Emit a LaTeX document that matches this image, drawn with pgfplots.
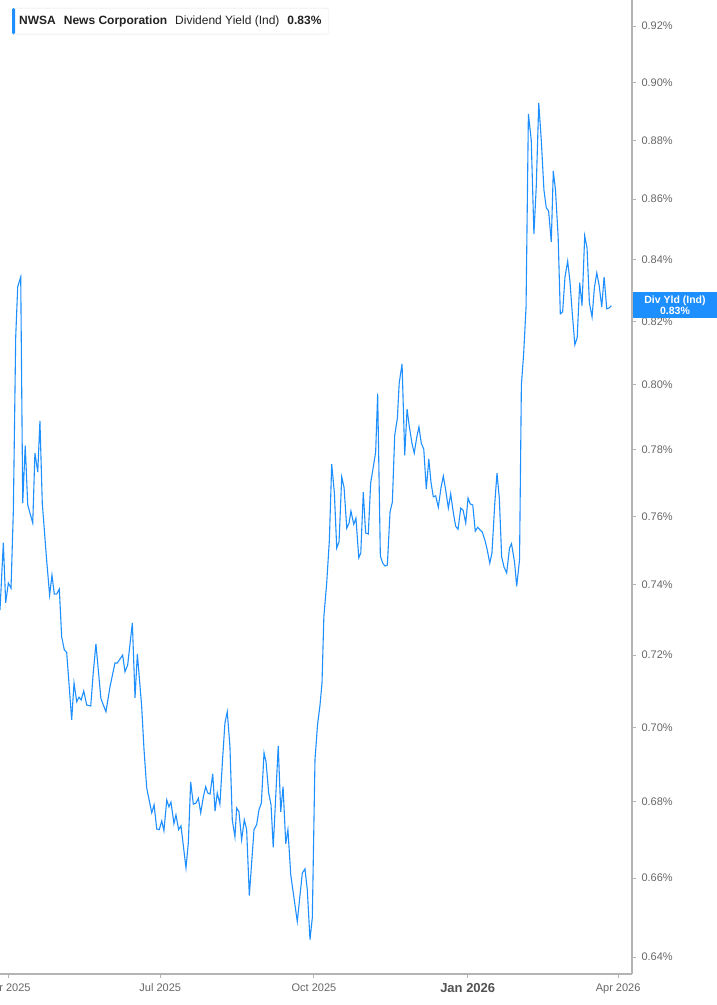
\documentclass[border=0pt]{standalone}
\usepackage{pgfplots}
\pgfplotsset{compat=1.18}
\usepackage{fontspec}
\setmainfont{Liberation Sans}

\definecolor{lineblue}{HTML}{1E8FFF}
\definecolor{axisgray}{HTML}{B4B4B4}
\definecolor{labelgray}{HTML}{666666}
\definecolor{titledark}{HTML}{222222}

% day = days after 1 Apr 2025, yield = dividend yield in percent
\pgfplotstableread{
day yield
-4.9 0.7328
-2.9 0.7522
-1.5 0.7348
0.1 0.7405
1.7 0.7390
3.1 0.7619
4.5 0.8150
5.7 0.8311
7.5 0.8343
8.7 0.7640
10.2 0.7814
11.7 0.7634
14.7 0.7580
16.0 0.7790
17.7 0.7733
19.0 0.7888
20.4 0.7640
23.0 0.7472
24.8 0.7370
26.2 0.7428
27.6 0.7373
29.0 0.7373
30.6 0.7387
32.0 0.7251
33.6 0.7214
35.0 0.7208
38.0 0.7020
39.4 0.7122
41.0 0.7070
42.4 0.7083
43.7 0.7075
45.2 0.7100
47.0 0.7061
49.4 0.7058
50.9 0.7150
52.5 0.7231
55.5 0.7078
58.5 0.7042
60.9 0.7111
63.9 0.7178
65.3 0.7178
68.5 0.7200
69.9 0.7153
71.5 0.7172
74.3 0.7291
75.9 0.7081
77.3 0.7203
79.9 0.7056
81.3 0.6938
82.9 0.6836
85.9 0.6770
87.3 0.6791
88.9 0.6728
90.4 0.6726
91.9 0.6749
93.2 0.6723
94.9 0.6804
96.2 0.6786
97.4 0.6799
99.2 0.6741
100.4 0.6765
102.0 0.6726
103.4 0.6736
106.4 0.6626
107.8 0.6692
109.2 0.6852
110.8 0.6793
112.4 0.6796
113.8 0.6809
115.2 0.6770
116.8 0.6812
118.2 0.6839
119.4 0.6823
120.8 0.6820
122.4 0.6874
123.8 0.6775
125.1 0.6823
126.7 0.6793
128.4 0.6920
129.7 0.7011
131.1 0.7042
132.7 0.6947
134.1 0.6752
135.7 0.6707
136.7 0.6783
138.1 0.6773
139.7 0.6699
141.3 0.6752
142.7 0.6726
144.3 0.6555
147.1 0.6726
148.7 0.6739
150.1 0.6778
151.5 0.6796
153.1 0.6930
154.3 0.6906
155.9 0.6823
157.3 0.6791
158.6 0.6679
161.6 0.6949
163.1 0.6773
164.5 0.6839
166.1 0.6689
167.4 0.6726
169.1 0.6608
173.0 0.6489
176.0 0.6613
177.6 0.6624
179.0 0.6570
180.6 0.6443
182.0 0.6499
183.6 0.6912
185.1 0.7006
186.6 0.7061
187.8 0.7122
188.9 0.7308
190.6 0.7405
192.2 0.7530
193.6 0.7757
195.2 0.7670
196.6 0.7507
198.0 0.7525
199.6 0.7718
201.0 0.7685
202.6 0.7565
204.0 0.7580
205.1 0.7616
206.8 0.7577
208.1 0.7595
209.8 0.7478
211.0 0.7492
212.5 0.7673
213.9 0.7551
215.5 0.7548
216.9 0.7700
218.5 0.7748
219.9 0.7793
221.1 0.7974
222.7 0.7484
224.1 0.7463
225.5 0.7454
226.9 0.7457
228.5 0.7613
229.9 0.7643
231.3 0.7845
232.9 0.7897
234.0 0.8005
235.7 0.8065
237.3 0.7784
238.7 0.7925
240.0 0.7873
241.7 0.7817
243.0 0.7790
244.5 0.7839
245.8 0.7870
247.2 0.7820
248.7 0.7802
250.2 0.7682
251.7 0.7772
253.0 0.7703
254.4 0.7658
255.8 0.7661
257.4 0.7628
259.0 0.7685
260.4 0.7721
261.8 0.7679
263.4 0.7625
264.8 0.7667
266.4 0.7610
267.8 0.7571
269.2 0.7562
270.8 0.7625
272.2 0.7619
273.8 0.7580
275.2 0.7655
276.5 0.7637
278.0 0.7634
279.5 0.7557
281.0 0.7568
282.3 0.7560
283.7 0.7554
285.3 0.7530
286.7 0.7501
288.2 0.7463
289.5 0.7492
291.2 0.7640
292.5 0.7730
293.9 0.7655
295.3 0.7481
296.7 0.7451
298.3 0.7434
300.0 0.7507
301.2 0.7519
303.0 0.7466
304.3 0.7396
306.0 0.7472
307.1 0.7999
308.5 0.8100
309.9 0.8246
311.3 0.8891
313.0 0.8801
314.6 0.8484
316.0 0.8641
317.5 0.8929
319.0 0.8801
320.6 0.8631
322.0 0.8571
323.4 0.8561
325.0 0.8458
326.2 0.8695
327.5 0.8631
329.1 0.8475
330.4 0.8224
331.8 0.8230
333.2 0.8343
334.8 0.8395
336.2 0.8327
337.5 0.8230
339.1 0.8125
340.5 0.8147
342.0 0.8324
343.4 0.8250
345.0 0.8478
346.4 0.8438
347.8 0.8259
349.4 0.8214
350.8 0.8308
352.2 0.8356
353.6 0.8317
355.2 0.8246
356.6 0.8343
358.2 0.8240
359.7 0.8243
360.9 0.8250
}\yieldtable

\begin{document}
\begin{tikzpicture}
\begin{axis}[
    name=main,
    at={(0,0)}, anchor=south west,
    scale only axis,
    width=632pt, height=974pt,
    ymode=log,
    xmin=-4.9, xmax=373.3,
    ymin=0.63577, ymax=0.92943,
    axis x line*=bottom,
    axis y line*=right,
    axis line style={axisgray, line width=2pt, -},
    xtick={0,91,183,275,365},
    xticklabels={Apr 2025, Jul 2025, Oct 2025,
        {\fontsize{13}{15}\selectfont\bfseries\color{labelgray!80!black}Jan 2026}, Apr 2026},
    ytick={0.64,0.66,0.68,0.70,0.72,0.74,0.76,0.78,0.80,0.82,0.84,0.86,0.88,0.90,0.92},
    yticklabels={0.64\%,0.66\%,0.68\%,0.70\%,0.72\%,0.74\%,0.76\%,0.78\%,0.80\%,0.82\%,0.84\%,0.86\%,0.88\%,0.90\%,0.92\%},
    minor x tick num=0, minor y tick num=0,
    tick align=outside,
    major tick length=4pt,
    tick style={axisgray, line width=1pt},
    ticklabel style={font=\fontsize{11}{13}\selectfont, text=labelgray},
    xticklabel style={yshift=-2pt},
    yticklabel style={xshift=2pt},
]
\addplot[lineblue, line width=1.1pt, mark=none] table[x=day, y=yield] {\yieldtable};
\end{axis}

% header box
\node[anchor=north west, draw=gray!20, fill=white, rounded corners=2pt,
      minimum height=26pt, inner xsep=7pt, inner ysep=0pt, text=titledark,
      font=\fontsize{12}{14}\selectfont] (legend) at (12pt,966pt)
  {\bfseries NWSA\hspace{8pt}News Corporation\hspace{8pt}\mdseries Dividend Yield (Ind)\hspace{8pt}\bfseries 0.83\%};
\fill[lineblue, rounded corners=1.5pt] (legend.north west) rectangle ([xshift=3pt]legend.south west);

% last value badge
\fill[lineblue] (633pt,656pt) rectangle (717pt,682pt);
\node[text=white, font=\fontsize{10.5}{11}\selectfont\bfseries, align=center, inner sep=0pt]
  at (675pt,669pt) {Div Yld (Ind)\\0.83\%};

\pgfresetboundingbox
\path (0pt,-31pt) rectangle (717pt,974pt);
\end{tikzpicture}
\end{document}
